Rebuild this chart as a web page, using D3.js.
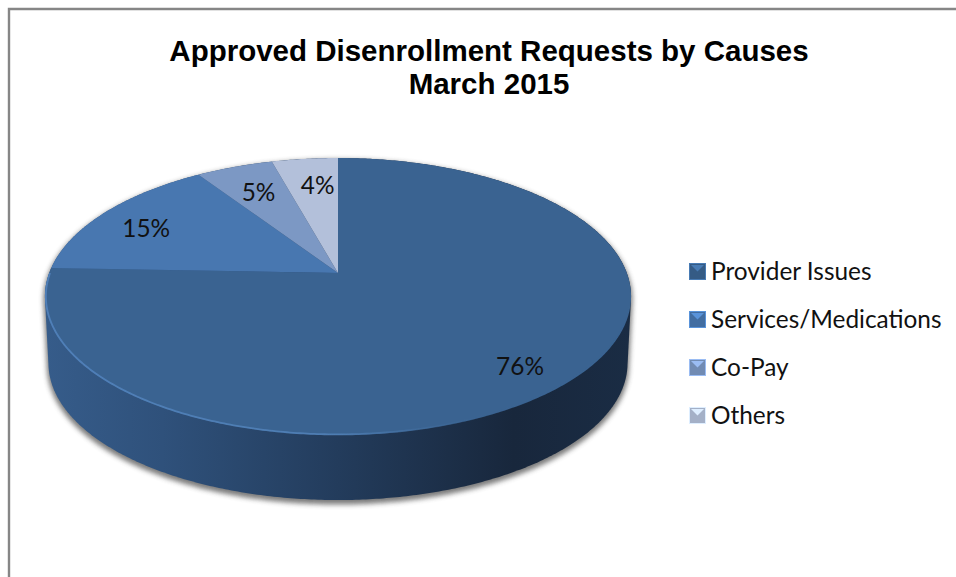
<!DOCTYPE html>
<html>
<head>
<meta charset="utf-8">
<script src="https://cdn.jsdelivr.net/npm/d3@7"></script>
<style>
  html, body { margin: 0; padding: 0; background: #fff; overflow: hidden; }
  svg { display: block; }
</style>
</head>
<body>
<svg id="chart" width="956" height="577"></svg>
<script>
// Chart data, labels show the rounded percentages
const titleLines = ["Approved Disenrollment Requests by Causes", "March 2015"];
const categories = ["Provider Issues", "Services/Medications", "Co-Pay", "Others"];
const shares = [75.6, 15.1, 5.0, 4.3];
const sliceColors = ["#3a6391", "#4877b0", "#7c98c4", "#b3c0da"];

const svg = d3.select("#chart");
const defs = svg.append("defs");

// Frame, only top and left edges are in the picture
svg.append("path")
    .attr("d", "M9,577V9H956")
    .attr("fill", "none")
    .attr("stroke", "#868686")
    .attr("stroke-width", 2.4);

// Title
svg.append("g").selectAll("text")
    .data(titleLines)
    .join("text")
    .attr("x", 489)
    .attr("y", (d, i) => 61 + i * 33)
    .attr("text-anchor", "middle")
    .style("font", "bold 29.5px 'Liberation Sans'")
    .attr("fill", "#000")
    .text(d => d);

// The pie lies flat and is seen in perspective, so the centre sits above the middle of the ellipse
const apex = {x: 338, y: 273};
const radius = 288.8, foreshorten = 134.5, tilt = 0.1697;
const depth = 67, lowerScale = 0.988;

function project(angle, r = 1, drop = 0, scale = 1) {
    const u = Math.sin(angle) * r, v = Math.cos(angle) * r;
    const s = scale / (1 + tilt * v);
    return [apex.x + radius * u * s, apex.y + drop - foreshorten * v * s];
}

function sweep(a0, a1, step = 0.01) {
    return d3.range(a0, a1, step).concat([a1]);
}

const line = d3.line();
const pie = d3.pie().sort(null).value(d => d)(shares);

// Side wall and its shadow
const rim = sweep(0, 2 * Math.PI).map(a => project(a));
const lower = sweep(0, 2 * Math.PI).map(a => project(a, 1, depth, lowerScale));
const hull = d3.polygonHull(rim.concat(lower));

const sideGrad = defs.append("linearGradient")
    .attr("id", "side")
    .attr("gradientUnits", "userSpaceOnUse")
    .attr("x1", 45).attr("x2", 631).attr("y1", 0).attr("y2", 0);
[[0, "#365c8a"], [0.2, "#2f517b"], [0.5, "#233c5c"], [0.8, "#18273c"], [1, "#1a2c44"]].forEach(s => {
    sideGrad.append("stop").attr("offset", s[0]).attr("stop-color", s[1]);
});

defs.append("filter").attr("id", "soft")
    .attr("x", "-5%").attr("y", "-5%").attr("width", "110%").attr("height", "110%")
    .append("feGaussianBlur").attr("stdDeviation", 2.5);

defs.append("filter").attr("id", "bevelBlur")
    .attr("x", "-5%").attr("y", "-5%").attr("width", "110%").attr("height", "110%")
    .append("feGaussianBlur").attr("stdDeviation", 0.5);

svg.append("path")
    .attr("d", line(hull) + "Z")
    .attr("transform", "translate(0,3)")
    .attr("fill", "#444")
    .attr("stroke", "#444")
    .attr("stroke-width", 3)
    .attr("opacity", 0.7)
    .attr("filter", "url(#soft)");

svg.append("path")
    .attr("d", line(hull) + "Z")
    .attr("fill", "url(#side)");

// Top slices
svg.append("g").selectAll("path")
    .data(pie)
    .join("path")
    .attr("d", d => line([[apex.x, apex.y]].concat(sweep(d.startAngle, d.endAngle).map(a => project(a)))) + "Z")
    .attr("fill", (d, i) => sliceColors[i]);

// Light bevel along the front of the rim
const rimGrad = defs.append("linearGradient")
    .attr("id", "rimLight")
    .attr("gradientUnits", "userSpaceOnUse")
    .attr("x1", 45).attr("x2", 631).attr("y1", 0).attr("y2", 0);
[[0, "#4f7fb8", 1], [0.5, "#5080b6", 0.9], [0.75, "#3a6391", 0.3], [1, "#3a6391", 0]].forEach(s => {
    rimGrad.append("stop").attr("offset", s[0]).attr("stop-color", s[1]).attr("stop-opacity", s[2]);
});

svg.append("path")
    .attr("d", line(sweep(Math.PI * 0.5, Math.PI * 1.5).map(a => project(a, 0.997))))
    .attr("fill", "none")
    .attr("stroke", "url(#rimLight)")
    .attr("stroke-width", 1.8)
    .attr("filter", "url(#bevelBlur)");

// Slice labels, placed by hand like the best-fit labels of the original
const labelFont = "24.4px Lato";
const labelRadii = [0.83, 0.8, 0.73, 0.73];
const labelNudge = [[-3, 5], [-3, 5], [-1, 0], [5, 0]];

svg.append("g").selectAll("text")
    .data(pie)
    .join("text")
    .each(function(d, i) {
        const p = project((d.startAngle + d.endAngle) / 2, labelRadii[i]);
        d3.select(this).attr("x", p[0] + labelNudge[i][0]).attr("y", p[1] + labelNudge[i][1] + 8);
    })
    .attr("text-anchor", "middle")
    .style("font", labelFont)
    .attr("fill", "#111")
    .text(d => Math.round(d.value) + "%");

// Legend
const legendY = d3.scalePoint().domain(categories).range([271, 415]);

const legend = svg.append("g").selectAll("g")
    .data(categories)
    .join("g")
    .attr("transform", d => `translate(689,${legendY(d) - 8})`);

legend.append("rect")
    .attr("x", 0.5).attr("y", 0.5)
    .attr("width", 16).attr("height", 16)
    .attr("fill", (d, i) => d3.color(sliceColors[i]).darker(0.25))
    .attr("stroke", (d, i) => d3.color(sliceColors[i]).brighter(0.6))
    .attr("stroke-width", 1);

legend.append("path")
    .attr("d", "M2,2H15L8.5,8.5Z")
    .attr("fill", (d, i) => d3.color(sliceColors[i]).brighter(0.6));

legend.append("text")
    .attr("x", 22)
    .attr("y", 16.5)
    .style("font", "24.4px Lato")
    .attr("fill", "#111")
    .text(d => d);
</script>
</body>
</html>
